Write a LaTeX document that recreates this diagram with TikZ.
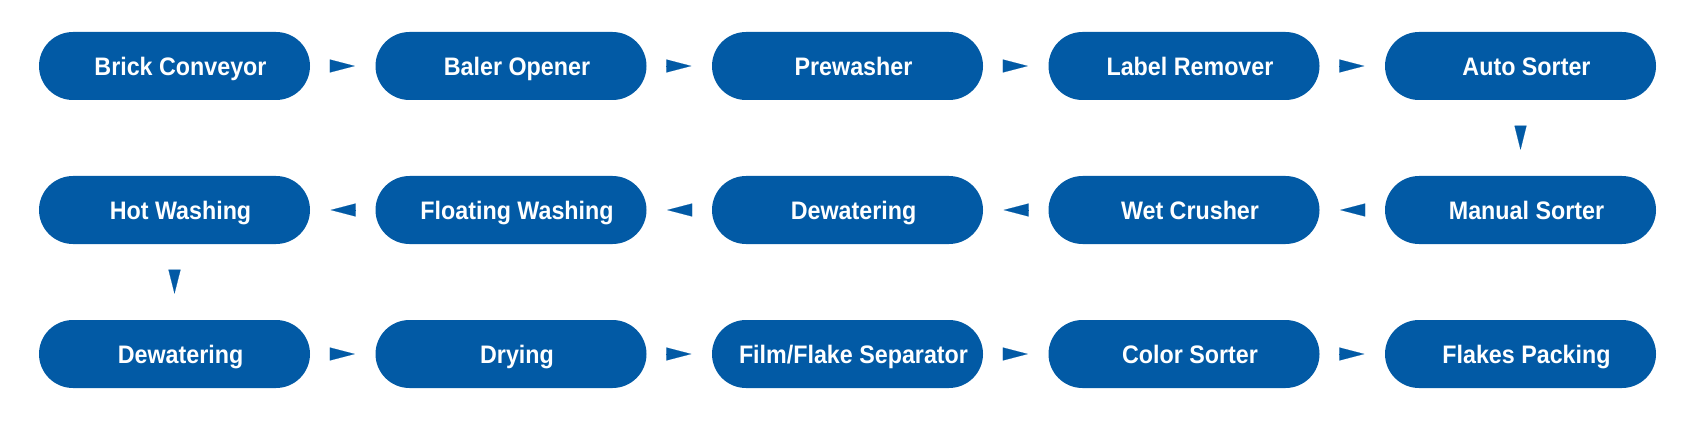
\documentclass[tikz,border=0pt]{standalone}
\usepackage{fontspec}
\setmainfont{Liberation Sans}[FakeStretch=0.92]
\usetikzlibrary{arrows.meta}
\definecolor{boxblue}{RGB}{2,90,165}

\tikzset{
  stage/.style={fill=boxblue, rounded corners=0.85cm, minimum width=6.775cm,
    minimum height=1.7cm, text height=12.9pt, text depth=0pt, text=white,
    font=\fontsize{18}{20}\selectfont\bfseries,
    execute at begin node={\hspace*{0.3cm}}},
  harrow/.style={boxblue, line width=0.1pt, -{Triangle[length=0.625cm, width=0.325cm]},
    shorten <=0.51cm, shorten >=0.51cm},
  varrow/.style={boxblue, line width=0.1pt, -{Triangle[length=0.6cm, width=0.3cm]},
    shorten <=0.65cm, shorten >=0.65cm}
}

\begin{document}
\begin{tikzpicture}
            \useasboundingbox (0,0) rectangle (42.35,-10.6);
            \node[stage] (c1) at (4.3625,-1.65) {Brick Conveyor};
            \node[stage] (c2) at (12.775,-1.65) {Baler Opener};
            \node[stage] (c3) at (21.1875,-1.65) {Prewasher};
            \node[stage] (c4) at (29.6,-1.65) {Label Remover};
            \node[stage] (c5) at (38.0125,-1.65) {Auto Sorter};
            \node[stage] (w5) at (38.0125,-5.25) {Manual Sorter};
            \node[stage] (w4) at (29.6,-5.25) {Wet Crusher};
            \node[stage] (w3) at (21.1875,-5.25) {Dewatering};
            \node[stage] (w2) at (12.775,-5.25) {Floating Washing};
            \node[stage] (w1) at (4.3625,-5.25) {Hot Washing};
            \node[stage] (d1) at (4.3625,-8.85) {Dewatering};
            \node[stage] (d2) at (12.775,-8.85) {Drying};
            \node[stage] (d3) at (21.1875,-8.85) {Film/Flake Separator};
            \node[stage] (d4) at (29.6,-8.85) {Color Sorter};
            \node[stage] (d5) at (38.0125,-8.85) {Flakes Packing};
            \draw[harrow] (c1) -- (c2);
            \draw[harrow] (c2) -- (c3);
            \draw[harrow] (c3) -- (c4);
            \draw[harrow] (c4) -- (c5);
            \draw[varrow] (c5) -- (w5);
            \draw[harrow] (w5) -- (w4);
            \draw[harrow] (w4) -- (w3);
            \draw[harrow] (w3) -- (w2);
            \draw[harrow] (w2) -- (w1);
            \draw[varrow] (w1) -- (d1);
            \draw[harrow] (d1) -- (d2);
            \draw[harrow] (d2) -- (d3);
            \draw[harrow] (d3) -- (d4);
            \draw[harrow] (d4) -- (d5);
        \end{tikzpicture}
\end{document}
